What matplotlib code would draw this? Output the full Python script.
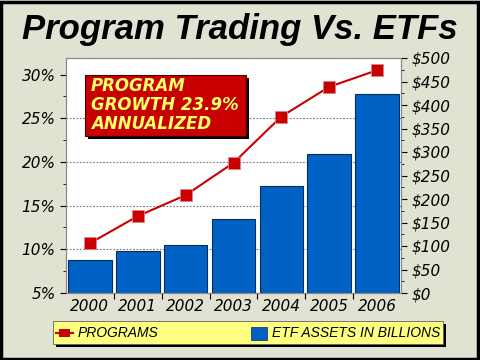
import matplotlib.pyplot as plt
from matplotlib.patches import Rectangle
from matplotlib.lines import Line2D
from matplotlib.ticker import MultipleLocator, FuncFormatter

years = ["2000", "2001", "2002", "2003", "2004", "2005", "2006"]
program_pct = [10.7, 13.8, 16.2, 19.9, 25.2, 28.6, 30.5]
etf_assets = [71, 90, 103, 158, 227, 296, 424]

bg = "#E2E2D2"
bar_color = "#0062C4"
red = "#C80000"

fig = plt.figure(figsize=(4.8, 3.6), dpi=100, facecolor=bg)
W, H = 480, 360

# outer black frame
fig.patches.append(Rectangle((1 / W, 1 / H), 1 - 3 / W, 1 - 3 / H, transform=fig.transFigure,
                             fill=False, edgecolor="black", linewidth=2.5))

fig.text(0.5, 1 - 29 / H, "Program Trading Vs. ETFs", ha="center", va="center",
         fontsize=25, fontweight="bold", fontstyle="italic", family="Liberation Sans")

ax = fig.add_axes([66 / W, 1 - 293 / H, 335 / W, 235 / H])
ax2 = ax.twinx()

x = list(range(len(years)))
ax2.bar(x, etf_assets, width=0.91, color=bar_color, edgecolor="#0A2A5A", linewidth=0.8, zorder=2)
ax2.set_ylim(0, 500)
ax2.yaxis.set_major_locator(MultipleLocator(50))
ax2.yaxis.set_minor_locator(MultipleLocator(25))
ax2.yaxis.set_major_formatter(FuncFormatter(lambda v, p: "$%d" % v))

ax.set_zorder(ax2.get_zorder() + 1)
ax.patch.set_visible(False)
ax2.set_facecolor("white")
ax2.patch.set_visible(True)

ax.plot(x, program_pct, color=red, linewidth=1.5, marker="s", markersize=9,
        markerfacecolor=red, markeredgecolor="#E08080", markeredgewidth=0.6, zorder=5)
ax.set_ylim(5, 31.9)
ax.set_xlim(-0.5, 6.5)
ax.yaxis.set_major_locator(MultipleLocator(5))
ax.yaxis.set_minor_locator(MultipleLocator(2.5))
ax.yaxis.set_major_formatter(FuncFormatter(lambda v, p: "%d%%" % v))
for v in [10, 15, 20, 25]:
    ax2.axhline((v - 5) / (31.9 - 5) * 500, color="#777777", linestyle=(0, (1.5, 1.5)),
                linewidth=0.8, zorder=1)

ax.set_xticks([i + 0.5 for i in range(6)], minor=False)
ax.set_xticklabels([])
ax.set_xticks(x, minor=True)
ax.set_xticklabels(years, minor=True)
ax.tick_params(axis="x", which="minor", length=0, pad=4)
ax.tick_params(axis="x", which="major", length=4, direction="out")

for a in (ax, ax2):
    for lbl in a.get_yticklabels() + a.get_xticklabels(minor=True):
        lbl.set_fontstyle("italic")
        lbl.set_fontsize(11)
    for s in a.spines.values():
        s.set_color("#888888")
ax.tick_params(axis="y", which="major", length=4)
ax.tick_params(axis="y", which="minor", length=2)
ax2.tick_params(axis="y", which="major", length=4)
ax2.tick_params(axis="y", which="minor", length=2)

# annotation box
ax_fig = fig.transFigure
fig.patches.append(Rectangle(((85 + 3) / W, 1 - (136 + 3) / H), 161 / W, 61 / H,
                             transform=ax_fig, facecolor="black", edgecolor="none", zorder=10))
fig.patches.append(Rectangle((85 / W, 1 - 136 / H), 161 / W, 61 / H,
                             transform=ax_fig, facecolor=red, edgecolor="#400000",
                             linewidth=0.8, zorder=11))
fig.text(91 / W, 1 - 105 / H, "PROGRAM\nGROWTH 23.9%\nANNUALIZED", ha="left", va="center",
         color="#FFFF66", fontsize=12, fontweight="bold", fontstyle="italic",
         linespacing=1.1, zorder=12)

# legend box
fig.patches.append(Rectangle((56 / W, 1 - 347 / H), 390 / W, 23 / H, transform=ax_fig,
                             facecolor="black", edgecolor="none", zorder=10))
fig.patches.append(Rectangle((53 / W, 1 - 344 / H), 390 / W, 23 / H, transform=ax_fig,
                             facecolor="#FFFF80", edgecolor="#606060", linewidth=0.6, zorder=11))
fig.lines.append(Line2D([56 / W, 73 / W], [1 - 333 / H] * 2, transform=ax_fig, color=red,
                        linewidth=1.5, zorder=12))
fig.patches.append(Rectangle((59 / W, 1 - 337 / H), 11 / W, 8 / H, transform=ax_fig,
                             facecolor=red, edgecolor="none", zorder=12))
fig.text(78 / W, 1 - 333 / H, "PROGRAMS", ha="left", va="center", fontsize=10,
         fontstyle="italic", family="Liberation Sans", zorder=13)
fig.patches.append(Rectangle((251 / W, 1 - 340 / H), 16 / W, 13 / H, transform=ax_fig,
                             facecolor=bar_color, edgecolor="#0A2A5A", linewidth=0.5, zorder=12))
fig.text(272 / W, 1 - 333 / H, "ETF ASSETS IN BILLIONS", ha="left", va="center", fontsize=10,
         fontstyle="italic", family="Liberation Sans", zorder=13)

fig.savefig("out.png", dpi=100, facecolor=bg)
